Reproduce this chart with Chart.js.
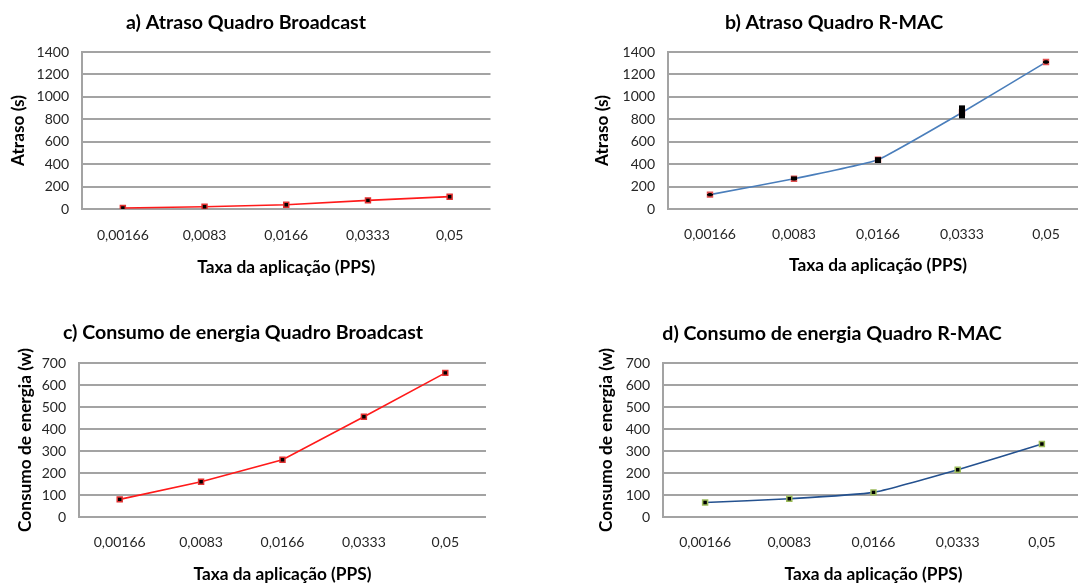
<!DOCTYPE html>
<html>
<head>
<meta charset="utf-8">
<script src="https://cdn.jsdelivr.net/npm/chart.js@4.4.1/dist/chart.umd.min.js"></script>
<style>
    html, body { margin: 0; padding: 0; background: #fff; overflow: hidden; }
    body { width: 1078px; height: 583px; position: relative; }
    canvas { position: absolute; }
</style>
</head>
<body>
<canvas id="chartA" width="496" height="300" style="left:0;top:0"></canvas>
<canvas id="chartB" width="518" height="300" style="left:580px;top:0"></canvas>
<canvas id="chartC" width="496" height="283" style="left:0;top:300px"></canvas>
<canvas id="chartD" width="518" height="283" style="left:580px;top:300px"></canvas>
<script>
//Dados
const categories = ['0,00166', '0,0083', '0,0166', '0,0333', '0,05'];
const delayBroadcast = [9, 20, 38, 77, 110];
const delayRmac = [128, 270, 440, 860, 1310];
const delayRmacLow = [120, 258, 410, 808, 1302];
const delayRmacHigh = [134, 290, 462, 924, 1318];
const energyBroadcast = [80, 160, 260, 456, 655];
const energyRmac = [66, 83, 112, 215, 332];
const delayMax = 1400, delayStep = 200;
const energyMax = 700, energyStep = 100;

const FONT = 'Lato';
const GRID = '#a3a3a3';

drawAll();

function drawAll() {
    makeChart('chartA', {
        title: 'a) Atraso Quadro Broadcast', yTitle: 'Atraso (s)',
        data: delayBroadcast, max: delayMax, step: delayStep,
        line: '#ff1a1a', marker: '#e03030', tension: 0,
        area: {l: 82, t: 52, r: 492, b: 209}, titleY: 23, yTitleX: 18, xLabelY: 235.7, xTitleY: 267
    });
    makeChart('chartB', {
        title: 'b) Atraso Quadro R-MAC', yTitle: 'Atraso (s)',
        data: delayRmac, max: delayMax, step: delayStep,
        low: delayRmacLow, high: delayRmacHigh,
        line: '#4a7ebb', marker: '#e05050', tension: 0.12,
        area: {l: 88, t: 52, r: 508, b: 209}, titleY: 23, yTitleX: 22, xLabelY: 234.7, xTitleY: 265.7
    });
    makeChart('chartC', {
        title: 'c) Consumo de energia Quadro Broadcast', yTitle: 'Consumo de energia (w)',
        data: energyBroadcast, max: energyMax, step: energyStep,
        line: '#ff1a1a', marker: '#e03030', tension: 0,
        area: {l: 79, t: 63, r: 486, b: 217}, titleY: 33, yTitleX: 25, xLabelY: 242.3, xTitleY: 274
    });
    makeChart('chartD', {
        title: 'd) Consumo de energia Quadro R-MAC', yTitle: 'Consumo de energia (w)',
        data: energyRmac, max: energyMax, step: energyStep,
        line: '#24518f', marker: '#9bbb59', tension: 0.15,
        area: {l: 83, t: 63, r: 504, b: 217}, titleY: 34, yTitleX: 26, xLabelY: 242.3, xTitleY: 274
    });
}

function makeChart(id, cfg) {
    let canvas = document.getElementById(id);
    let W = canvas.width, H = canvas.height;
    let titleSize = 19.6, axisSize = 17.3, tickSize = 14;
    let titleLH = titleSize * 1.2, axisLH = axisSize * 1.2, tickLH = tickSize * 1.2;

    //Streuungsbalken (nur b)
    let errorBars = {
        id: 'errorBars',
        afterDatasetsDraw: function (chart) {
            if (!cfg.low) return;
            let ctx = chart.ctx;
            let xs = chart.scales.x, ys = chart.scales.y;
            ctx.save();
            ctx.fillStyle = '#000';
            for (let i = 0; i < cfg.low.length; i++) {
                let x = xs.getPixelForValue(i);
                let y1 = ys.getPixelForValue(cfg.low[i]);
                let y2 = ys.getPixelForValue(cfg.high[i]);
                ctx.fillRect(x - 3, y2, 6, y1 - y2);
            }
            ctx.restore();
        }
    };

    return new Chart(canvas, {
        type: 'line',
        data: {
            labels: categories,
            datasets: [{
                data: cfg.data,
                borderColor: cfg.line,
                borderWidth: 1.6,
                tension: cfg.tension,
                pointStyle: 'rect',
                pointRadius: 3.5,
                pointBorderWidth: 1.5,
                pointBackgroundColor: '#000',
                pointBorderColor: cfg.marker
            }]
        },
        plugins: [errorBars],
        options: {
            responsive: false,
            animation: false,
            devicePixelRatio: 1,
            layout: {padding: {left: 0, top: 0, right: W - cfg.area.r, bottom: 0}},
            plugins: {
                legend: {display: false},
                tooltip: {enabled: false},
                title: {
                    display: true,
                    text: cfg.title,
                    color: '#000',
                    font: {family: FONT, size: titleSize, weight: 'bold'},
                    padding: {top: cfg.titleY - titleLH / 2, bottom: cfg.area.t - cfg.titleY - titleLH / 2}
                }
            },
            scales: {
                x: {
                    offset: true,
                    grid: {display: false, drawTicks: false},
                    border: {display: false},
                    ticks: {
                        color: '#262626',
                        font: {family: FONT, size: tickSize},
                        padding: cfg.xLabelY - cfg.area.b - tickLH / 2,
                        maxRotation: 0
                    },
                    title: {
                        display: true,
                        text: 'Taxa da aplicação (PPS)',
                        color: '#000',
                        font: {family: FONT, size: axisSize, weight: 'bold'},
                        padding: {top: 0, bottom: H - cfg.xTitleY - axisLH / 2}
                    },
                    afterFit: function (scale) { scale.height = H - cfg.area.b; }
                },
                y: {
                    min: 0,
                    max: cfg.max,
                    grid: {color: GRID, lineWidth: 2, drawTicks: false},
                    border: {display: true, color: GRID, width: 2},
                    ticks: {
                        stepSize: cfg.step,
                        color: '#262626',
                        font: {family: FONT, size: tickSize},
                        padding: 13,
                        callback: function (value) { return String(value); }
                    },
                    title: {
                        display: true,
                        text: cfg.yTitle,
                        color: '#000',
                        font: {family: FONT, size: axisSize, weight: 'bold'},
                        padding: {top: cfg.yTitleX - axisLH / 2, bottom: 0}
                    },
                    afterFit: function (scale) { scale.width = cfg.area.l; }
                }
            }
        }
    });
}
</script>
</body>
</html>
